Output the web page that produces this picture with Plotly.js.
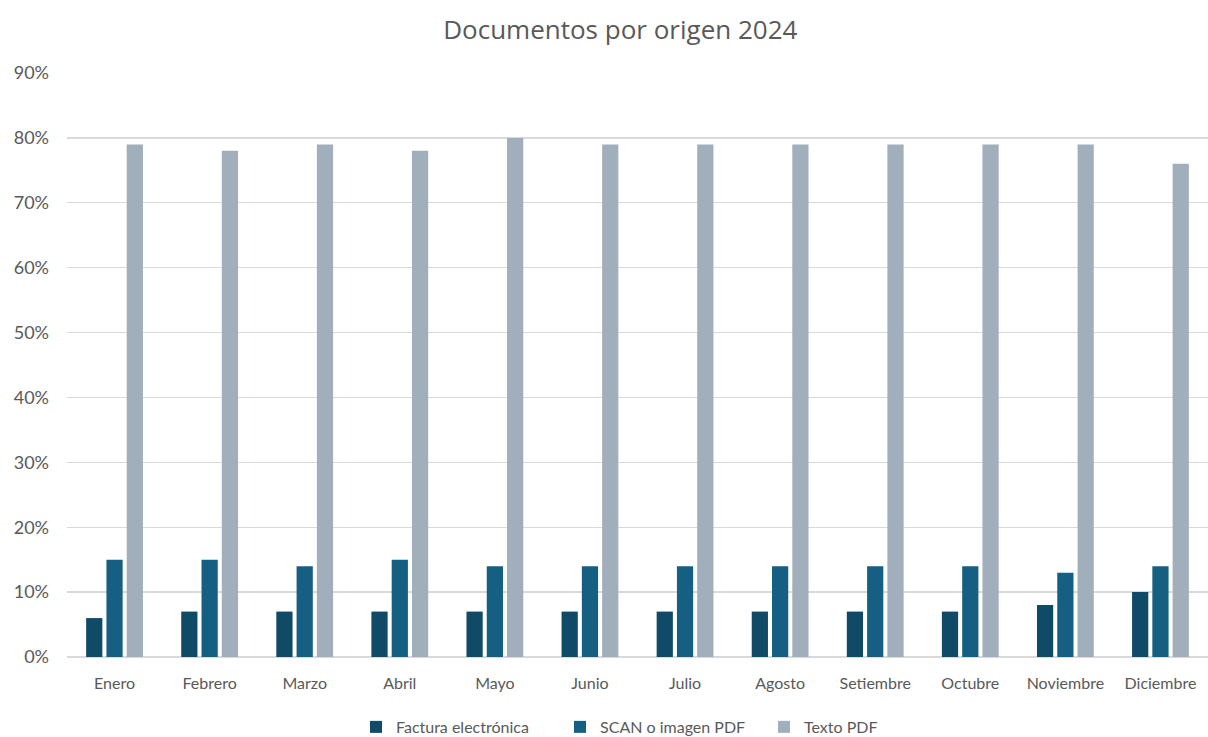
<!DOCTYPE html>
<html>
<head>
<meta charset="utf-8">
<script src="https://cdn.plot.ly/plotly-3.0.1.min.js"></script>
<style>html,body{margin:0;padding:0;background:#fff;}#chart{width:1208px;height:737px;}</style>
</head>
<body>
<div id="chart"></div>
<script>
const months = ["Enero","Febrero","Marzo","Abril","Mayo","Junio","Julio","Agosto","Setiembre","Octubre","Noviembre","Diciembre"];
const facturaElectronica = [0.06,0.07,0.07,0.07,0.07,0.07,0.07,0.07,0.07,0.07,0.08,0.10];
const scanImagenPdf = [0.15,0.15,0.14,0.15,0.14,0.14,0.14,0.14,0.14,0.14,0.13,0.14];
const textoPdf = [0.79,0.78,0.79,0.78,0.80,0.79,0.79,0.79,0.79,0.79,0.79,0.76];
const yTicks = [0,0.1,0.2,0.3,0.4,0.5,0.6,0.7,0.8,0.9];

const traces = [
  {type:"bar", name:"Factura electrónica", x:months, y:facturaElectronica, marker:{color:"#0f4a66"}, hoverinfo:"skip"},
  {type:"bar", name:"SCAN o imagen PDF", x:months, y:scanImagenPdf, marker:{color:"#156082"}, hoverinfo:"skip"},
  {type:"bar", name:"Texto PDF", x:months, y:textoPdf, marker:{color:"#a1aebb"}, hoverinfo:"skip"}
];

const layout = {
  width:1208, height:737,
  margin:{l:67, r:0, t:73, b:80},
  paper_bgcolor:"#fff", plot_bgcolor:"#fff",
  font:{family:"Lato, 'Open Sans', sans-serif", color:"#595959", size:16},
  title:{text:"Documentos por origen 2024", x:0.5135, xanchor:"center", xref:"container", y:0.96, yanchor:"middle",
         font:{family:"'Open Sans', 'Noto Sans', sans-serif", size:26, color:"#595959"}},
  barmode:"group", bargap:0.36, bargroupgap:0.2,
  xaxis:{type:"category", showgrid:false, showline:false, ticks:"", ticklabelstandoff:15,
         tickfont:{size:16, color:"#595959"}, automargin:false},
  yaxis:{range:[0,0.9], tickvals:yTicks, tickformat:".0%", showgrid:true, gridcolor:"#d9d9d9", gridwidth:1.3,
         zeroline:true, zerolinecolor:"#d9d9d9", zerolinewidth:1.3, showline:false, ticks:"", ticklen:0,
         ticklabelstandoff:17, tickfont:{size:18, color:"#595959"}, automargin:false},
  legend:{orientation:"h", x:0.2533, xanchor:"left", yref:"container", y:0.0136, yanchor:"middle",
          font:{size:16, color:"#595959"},
          itemwidth:30, entrywidth:159, entrywidthmode:"pixels", traceorder:"normal"},
  showlegend:true
};
Plotly.newPlot("chart", traces, layout, {displayModeBar:false, staticPlot:true});
</script>
</body>
</html>
